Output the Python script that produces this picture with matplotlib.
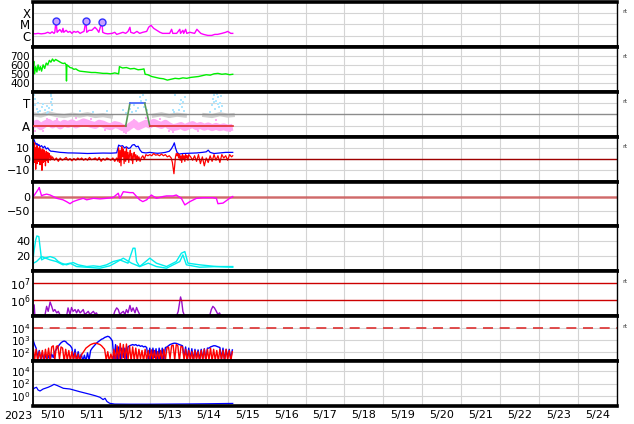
import numpy as np
import matplotlib
matplotlib.use("Agg")
import matplotlib.pyplot as plt
from matplotlib.ticker import NullLocator, FixedLocator

# ---------------- data (time = days since 2023-05-10 00:00) ----------------
xray_t = [0.00,0.05,0.13,0.21,0.31,0.38,0.44,0.49,0.54,0.56,0.59,0.62,0.64,0.69,0.74,0.77,0.79,0.85,0.90,0.95,
          1.00,1.05,1.10,1.15,1.21,1.26,1.31,1.36,1.38,1.44,1.51,1.59,1.64,1.69,1.77,1.79,1.85,1.92,2.03,2.10,
          2.15,2.23,2.31,2.38,2.44,2.49,2.51,2.59,2.67,2.74,2.82,2.92,2.97,3.03,3.10,3.18,3.26,3.33,3.41,3.51,
          3.56,3.59,3.69,3.77,3.79,3.85,3.87,3.92,3.95,4.03,4.15,4.21,4.26,4.31,4.38,4.49,4.59,4.67,4.74,4.85,
          4.95,5.00,5.08,5.13]
xray_f = [1.6e-6,1.45e-6,1.6e-6,1.45e-6,1.6e-6,2.0e-6,1.6e-6,2.2e-6,1.6e-6,2.0e-6,2.1e-5,2.0e-6,2.4e-6,3.5e-6,2.0e-6,4.5e-6,2.0e-6,3.0e-6,2.0e-6,2.4e-6,
          1.6e-6,2.4e-6,2.0e-6,2.4e-6,1.6e-6,2.0e-6,2.4e-6,2.1e-5,2.0e-6,3.0e-6,3.0e-6,5.6e-6,3.7e-6,2.0e-6,1.7e-5,2.0e-6,1.6e-6,1.45e-6,1.6e-6,2.0e-6,
          1.3e-6,1.6e-6,2.0e-6,1.6e-6,2.4e-6,5.6e-6,2.0e-6,1.6e-6,2.4e-6,1.6e-6,2.0e-6,2.4e-6,5.6e-6,8.5e-6,4.5e-6,3.0e-6,2.0e-6,1.6e-6,1.6e-6,1.6e-6,
          3.7e-6,1.6e-6,1.6e-6,3.7e-6,1.6e-6,3.0e-6,1.6e-6,3.7e-6,1.6e-6,2.0e-6,1.6e-6,3.7e-6,2.4e-6,1.6e-6,1.3e-6,1.05e-6,1.05e-6,1.3e-6,1.3e-6,1.6e-6,
          2.0e-6,2.4e-6,1.6e-6,1.6e-6]
flare_t = [0.59, 1.36, 1.77]
flare_f = [2.1e-5, 2.1e-5, 1.8e-5]

speed_t = [0.00,0.02,0.04,0.07,0.10,0.13,0.16,0.19,0.22,0.26,0.30,0.34,0.38,0.42,0.46,0.50,0.54,0.58,0.62,0.66,
           0.70,0.74,0.78,0.82,0.85,0.86,0.87,0.90,0.95,1.00,1.05,1.10,1.15,1.20,1.30,1.40,1.50,1.60,1.70,1.80,
           1.90,2.00,2.10,2.20,2.22,2.30,2.40,2.50,2.60,2.70,2.80,2.85,2.88,2.95,3.05,3.15,3.25,3.35,3.45,3.55,
           3.65,3.75,3.85,3.95,4.05,4.15,4.25,4.35,4.45,4.55,4.65,4.75,4.85,4.95,5.05,5.13]
speed_v = [560,640,500,580,520,600,540,580,530,600,560,620,600,650,630,665,640,660,650,640,
           630,620,615,620,600,420,600,590,570,565,550,555,540,530,525,520,515,515,510,505,
           505,500,510,500,580,565,570,555,560,545,550,555,495,490,470,460,450,445,430,440,
           450,445,455,450,460,465,470,480,490,485,500,505,495,500,490,495]

# threshold panel (A = all clear level, T = threshold level)
lvl_A, lvl_T = 0.233, 0.744
state_t = [0.00, 2.38, 2.49, 2.87, 3.00, 5.13]
state_v = [lvl_A, lvl_A, lvl_T, lvl_T, lvl_A, lvl_A]
pink_t = [0.0,0.1,0.2,0.3,0.4,0.5,0.6,0.7,0.8,0.9,1.0,1.1,1.2,1.3,1.4,1.5,1.6,1.7,1.8,1.9,2.0,2.1,2.2,2.3,2.4,2.5,
          2.6,2.7,2.8,2.9,3.0,3.1,3.2,3.3,3.4,3.5,3.6,3.7,3.8,3.9,4.0,4.1,4.2,4.3,4.4,4.5,4.6,4.7,4.8,4.9,5.0,5.13]
pink_v = [0.25,0.30,0.22,0.28,0.32,0.26,0.30,0.24,0.30,0.27,0.31,0.26,0.29,0.33,0.30,0.27,0.25,0.30,0.28,0.24,0.22,0.27,0.25,0.20,0.18,0.24,
          0.30,0.22,0.26,0.30,0.26,0.32,0.28,0.25,0.30,0.24,0.20,0.22,0.25,0.20,0.24,0.27,0.22,0.25,0.21,0.24,0.20,0.23,0.20,0.22,0.19,0.21]
pinkdot_t = [0.05,0.25,0.35,1.10,1.50,2.35,2.40,2.60,2.90,3.50,3.60,4.60,4.70,5.05,0.62,1.85,3.25,4.25]
pinkdot_v = [0.12,0.12,0.40,0.42,0.40,0.10,0.08,0.38,0.42,0.12,0.10,0.14,0.38,0.12,0.40,0.14,0.40,0.13]
gray_t = [0.0,0.2,0.4,0.6,0.8,1.0,1.2,1.4,1.6,1.8,2.0,2.2,3.1,3.3,3.5,3.7,3.9,4.1,4.4,4.6,4.8,5.0,5.13]
gray_v = [0.50,0.47,0.52,0.48,0.46,0.49,0.47,0.50,0.46,0.48,0.45,np.nan,0.47,0.50,0.46,0.49,0.47,np.nan,0.48,0.46,0.50,0.47,0.48]
blue_t = [0.00,0.02,0.04,0.06,0.10,0.14,0.18,0.22,0.26,0.30,0.35,0.38,0.42,0.45,0.46,0.47,0.48,0.49,0.50,0.36,0.12,
          1.20,1.55,1.90,2.30,2.40,2.50,2.55,2.60,2.65,2.70,2.75,2.78,2.80,2.83,2.86,2.90,2.92,
          3.60,3.62,3.65,3.75,3.78,3.80,3.82,3.85,3.88,3.90,
          4.55,4.60,4.62,4.64,4.66,4.68,4.70,4.72,4.74,4.76,4.78,4.80,4.82,4.84,4.86]
blue_v = [0.80,0.92,0.70,0.85,0.62,0.75,0.58,0.66,0.72,0.60,0.68,0.55,0.64,0.78,0.90,0.95,0.70,0.60,0.85,0.52,0.55,
          0.58,0.56,0.58,0.60,0.52,0.62,0.56,0.70,0.58,0.64,0.88,0.80,0.74,0.92,0.66,0.82,0.60,
          0.60,0.55,0.92,0.60,0.72,0.82,0.66,0.78,0.58,0.88,
          0.55,0.70,0.85,0.78,0.92,0.62,0.80,0.96,0.72,0.88,0.65,0.75,0.58,0.90,0.68]

bt_t = [0.00,0.03,0.05,0.08,0.10,0.13,0.15,0.18,0.22,0.26,0.30,0.34,0.38,0.42,0.46,0.50,0.60,0.70,0.80,0.90,
        1.00,1.20,1.40,1.60,1.80,2.00,2.15,2.20,2.25,2.30,2.35,2.40,2.45,2.50,2.55,2.60,2.65,2.70,2.75,2.80,
        2.90,3.00,3.10,3.20,3.30,3.40,3.50,3.55,3.60,3.63,3.66,3.70,3.75,3.85,4.00,4.20,4.35,4.45,4.50,4.55,
        4.65,4.80,4.95,5.13]
bt_v = [19,17,15,13,14,12,13,11,12,10,11.5,9,10,8,7,7,6.5,6,5.8,5.5,
        5.5,5.3,5.0,5.2,5.4,5.3,5.6,12.5,11.5,12,10,11,9.5,10,12.5,13,11,11.5,8,6,
        5.5,6,5.5,5.2,5.5,6,7,9,12,14.5,10,6,4.5,5,5.2,5.5,6,6.5,8,6,
        5,5.5,6,6]
bz_t = [0.00,0.01,0.02,0.03,0.04,0.05,0.06,0.07,0.08,0.09,0.10,0.11,0.12,0.13,0.14,0.15,0.16,0.17,0.18,0.19,
        0.20,0.21,0.22,0.23,0.24,0.25,0.26,0.27,0.28,0.29,0.30,0.31,0.32,0.33,0.34,0.35,0.36,0.37,0.38,0.39,
        0.40,0.42,0.44,0.46,0.48,0.50,0.55,0.60,0.65,0.70,0.75,0.80,0.85,0.90,0.95,1.00,1.05,1.10,1.15,1.20,
        1.25,1.30,1.35,1.40,1.45,1.50,1.55,1.60,1.65,1.70,1.75,1.80,1.85,1.90,1.95,2.00,2.05,2.10,2.15,2.18,
        2.20,2.22,2.24,2.26,2.28,2.30,2.32,2.34,2.36,2.38,2.40,2.42,2.44,2.46,2.48,2.50,2.52,2.54,2.56,2.58,
        2.60,2.62,2.64,2.66,2.68,2.70,2.72,2.75,2.78,2.82,2.86,2.90,2.95,3.00,3.05,3.10,3.15,3.20,3.25,3.30,
        3.35,3.40,3.45,3.50,3.55,3.58,3.60,3.62,3.64,3.66,3.68,3.70,3.72,3.74,3.76,3.78,3.80,3.82,3.84,3.86,
        3.88,3.90,3.92,3.94,3.96,3.98,4.00,4.05,4.10,4.15,4.20,4.25,4.30,4.35,4.40,4.45,4.50,4.55,4.60,4.65,
        4.70,4.75,4.80,4.85,4.90,4.95,5.00,5.05,5.10,5.13]
bz_v = [12,-5,15,5,14,-3,10,-9,8,2,12,-4,6,10,-2,8,3,11,-5,5,
        9,-1,7,-10,4,9,-3,6,1,8,-2,5,-6,3,7,-1,4,0,6,-3,
        2,5,-1,3,0,2,-1,1,-2,1,-1,0,1.5,-1,0.5,-1.5,0.5,-1,1,-0.5,
        1,-1,0.5,-1,1.5,-0.5,0,1,-1,1.5,-2,0.5,-1,1,0,-1,1,-2,1,-2,
        10,-3,8,-6,11,2,9,-4,7,-2,10,0,6,-3,4,8,-1,5,-4,3,
        6,0,4,-2,3,-1,2,-2,1,3,0,4,3,4,3,5,3.5,4,3,4.5,
        3,4,2,3,1,-3,-8,-13,-5,2,5,3,5,1,4,-1,3,-3,4,0,
        3,-2,4,1,3,-1,4,2,-1,3,-2,4,-4,2,-6,1,-3,3,-2,4,
        -1,3,-3,4,1,3,-1,4,2,3]

dst_t = [0.01,0.14,0.16,0.22,0.26,0.35,0.44,0.52,0.61,0.77,0.86,0.95,1.03,1.16,1.29,1.38,1.55,1.72,1.89,2.06,
         2.19,2.23,2.32,2.49,2.57,2.66,2.74,2.82,2.92,3.04,3.17,3.34,3.43,3.60,3.68,3.81,3.90,4.03,4.20,4.37,
         4.62,4.71,4.75,4.88,5.05,5.13]
dst_v = [0,25,30,2,5,8,5,0,-6,-11,-17,-24,-17,-11,-6,-11,-6,-8,-6,-3,
         11,-6,16,13,13,0,-11,-17,-11,5,-6,0,2,2,5,-6,-28,-17,-6,-4,
         -4,-6,-24,-22,-6,0]

dens1_t = [0.01,0.03,0.07,0.10,0.15,0.19,0.22,0.30,0.44,0.56,0.65,0.73,0.86,1.03,1.16,1.38,1.55,1.72,1.89,2.06,
           2.23,2.44,2.57,2.62,2.66,2.74,3.00,3.17,3.43,3.68,3.81,3.90,3.98,4.28,4.71,5.13]
dens1_v = [19.7,28.7,42,47.3,46.4,28.7,15.3,17.6,19.7,17.6,13.1,10.9,8.7,11.8,8.7,6.4,7.3,6.4,8.7,13.1,
           15.3,10.9,30.9,30.9,13.1,6.4,17.6,10.9,6.4,13.1,24.2,26.4,10.9,8.7,6.4,6.4]
dens2_t = [0.01,0.09,0.22,0.44,0.60,0.77,0.95,1.12,1.38,1.72,1.97,2.10,2.32,2.53,2.74,2.96,3.17,3.43,3.77,3.85,
           3.94,4.28,4.71,5.13]
dens2_v = [10.9,13.1,19.7,15.3,13.1,8.7,10.9,6.4,5.5,4.2,7.3,10.9,17.6,10.9,6.4,10.9,6.4,4.2,13.1,22,
           8.7,5.5,6.4,5.5]

elec_t = [0.01,0.03,0.05,0.30,0.35,0.39,0.44,0.48,0.52,0.56,0.61,0.65,0.69,0.86,0.90,0.95,0.99,1.03,1.08,1.12,
          1.16,1.21,1.25,1.29,1.33,1.42,1.46,1.55,1.59,1.63,1.68,2.06,2.10,2.15,2.19,2.23,2.27,2.32,2.36,2.40,
          2.44,2.49,2.53,2.57,2.62,2.66,2.70,2.74,2.79,3.68,3.73,3.77,3.79,3.82,3.85,3.90,4.53,4.58,4.62,4.66,
          4.71,4.75,4.79,4.84]
elec_v = [1.0e5,5.2e5,1.0e5,1.0e5,4.2e5,2.1e5,7.7e5,4.2e5,2.1e5,2.7e5,1.7e5,2.1e5,1.35e5,1.0e5,3.4e5,1.35e5,3.6e5,2.1e5,2.7e5,1.7e5,
          2.7e5,1.7e5,2.1e5,2.7e5,1.35e5,2.1e5,1.35e5,2.1e5,1.5e5,1.7e5,1.0e5,1.0e5,2.1e5,3.4e5,2.7e5,1.35e5,1.7e5,2.1e5,1.35e5,2.7e5,
          1.7e5,4.8e5,2.1e5,3.4e5,1.7e5,3.6e5,2.1e5,1.35e5,1.0e5,1.0e5,2.1e5,8.3e5,1.55e6,8.3e5,2.1e5,1.0e5,1.0e5,2.7e5,4.2e5,3.4e5,
          2.1e5,1.35e5,1.7e5,1.0e5]

p8_start, p8_step = 0.0, 0.04
p8_blue_log = [3.0,2.6,2.3,1.5,2.1,1.3,1.9,1.2,1.8,1.2,1.7,1.3,1.8,1.5,2.0,2.2,2.4,2.6,2.75,2.85,
               2.9,2.85,2.7,2.6,2.5,2.3,1.4,2.2,1.2,2.0,1.3,1.8,1.2,1.7,1.2,1.9,1.3,2.1,2.3,2.45,
               2.6,2.75,2.85,2.95,3.05,3.1,3.2,3.25,3.3,3.25,3.1,2.9,1.3,2.6,1.2,2.4,1.3,2.3,1.5,2.3,
               1.4,2.4,2.5,2.55,2.6,2.55,2.6,2.5,2.55,2.45,2.5,2.4,2.45,2.35,1.4,2.3,1.3,2.3,1.5,2.25,
               1.3,2.3,1.4,2.3,1.3,2.35,2.4,2.5,2.6,2.65,2.7,2.72,2.7,2.65,2.6,2.55,2.5,1.5,2.4,1.3,
               2.3,1.4,2.25,1.3,2.2,1.5,2.15,1.3,2.2,1.4,2.25,1.3,2.3,2.3,2.4,2.45,2.5,2.5,2.45,2.4,
               2.35,1.4,2.3,1.3,2.2,1.5,2.2,1.4,2.15]
p8_red_log = [2.5,1.3,2.2,1.2,2.0,1.4,2.1,1.2,2.2,1.3,2.3,1.2,2.4,2.5,1.3,2.45,2.5,1.4,2.4,2.3,
              1.2,2.2,1.3,2.1,1.2,2.0,1.3,1.9,1.2,1.8,1.2,1.7,1.9,2.1,2.3,2.4,2.5,2.6,2.65,2.7,
              2.72,2.7,2.65,2.6,2.5,2.35,2.2,1.3,2.0,1.2,1.8,1.3,2.2,1.2,2.5,1.3,2.7,1.4,2.6,1.2,
              2.65,1.3,2.5,1.2,2.4,1.3,2.3,1.2,2.2,1.4,2.1,1.2,2.2,1.3,2.1,1.2,2.15,1.3,2.1,1.2,
              2.0,1.3,2.1,1.2,2.2,1.3,2.3,2.4,1.4,2.5,2.55,1.3,2.6,2.5,1.2,2.45,2.4,1.3,2.2,1.2,
              2.1,1.3,2.0,1.2,2.1,1.3,2.0,1.2,2.1,1.3,2.2,1.2,2.2,1.3,2.3,1.2,2.2,1.3,2.1,1.2,
              2.2,1.3,2.1,1.2,2.2,1.3,2.1,1.2,2.0]

p9_t = [0.00,0.04,0.09,0.13,0.18,0.26,0.39,0.48,0.54,0.62,0.78,0.95,1.20,1.46,1.60,1.72,1.80,1.85,1.90,1.97,
        2.10,2.50,3.00,3.50,4.00,4.50,5.13]
p9_log = [1.1,1.3,1.42,1.0,0.84,1.15,1.42,1.67,1.88,1.7,1.26,1.15,0.73,0.33,0.1,-0.14,-0.5,-0.3,-0.8,-1.08,
          -1.2,-1.22,-1.22,-1.2,-1.18,-1.15,-1.1]

day_labels = ["5/10","5/11","5/12","5/13","5/14","5/15","5/16","5/17","5/18","5/19","5/20","5/21","5/22","5/23","5/24"]
year_label = "2023"

# ---------------- figure ----------------
W, H = 634, 424
fig = plt.figure(figsize=(W/100, H/100), dpi=100)
axes = fig.subplots(9, 1, sharex=True)
fig.subplots_adjust(left=33/W, right=617/W, top=1-2/H, bottom=1-406/H, hspace=0)

GRID = '#d4d4d4'
FS = 8

for ax in axes:
    ax.set_xlim(0, 15)
    ax.set_xticks(np.arange(0.5, 15, 1))
    ax.set_xticks(np.arange(0, 16, 1), minor=True)
    ax.grid(True, which='minor', axis='x', color=GRID, lw=0.8)
    ax.tick_params(axis='both', which='both', length=0, labelsize=FS, pad=2)
    for s in ('top', 'bottom'):
        ax.spines[s].set_linewidth(2.6)
    ax.spines['left'].set_linewidth(1.3)
    ax.spines['right'].set_linewidth(1.0)
    ax.set_axisbelow(True)

def ygrid(ax):
    ax.grid(True, which='major', axis='y', color=GRID, lw=0.8)

# Panel 1: X-ray
ax = axes[0]
ax.set_yscale('log')
ax.set_ylim(1e-7, 1e-3)
ax.plot(xray_t, xray_f, color='#ff00ff', lw=1.0)
ax.plot(flare_t, flare_f, 'o', ms=5, mfc='#c8a0ff', mec='#3030ff', mew=1.0)
ax.yaxis.set_major_locator(FixedLocator([1e-6, 1e-5, 1e-4]))
ax.yaxis.set_minor_locator(NullLocator())
ax.set_yticklabels(['C', 'M', 'X'])
ax.tick_params(axis='y', labelsize=8.5)
ygrid(ax)

# Panel 2: solar wind speed
ax = axes[1]
ax.set_ylim(300, 800)
ax.plot(speed_t, speed_v, color='#00ee00', lw=1.0)
ax.set_yticks([400, 500, 600, 700])
ax.tick_params(axis='y', labelsize=7.5)
ygrid(ax)

# Panel 3: threshold state
ax = axes[2]
ax.set_ylim(0, 1)
ax.plot(pink_t, pink_v, color='#ffaaf4', lw=5, solid_capstyle='butt', zorder=1)
ax.plot(pinkdot_t, pinkdot_v, 's', ms=2, color='#ffaaf4', mew=0, zorder=1)
ax.plot(gray_t, gray_v, color='#cfcfcf', lw=3, zorder=1)
ax.plot(blue_t, blue_v, 's', ms=2.0, color='#aee6ff', mew=0, zorder=1)
ax.axhline(0.5, color='#8c8c8c', lw=1.0, zorder=2)
seg_colors = ['#e03030', '#5a9a5a', '#4060ff', '#5a9a5a', '#e03030']
for i, c in enumerate(seg_colors):
    ax.plot(state_t[i:i+2], state_v[i:i+2], color=c, lw=1.2, zorder=3)
ax.set_yticks([lvl_A, lvl_T])
ax.set_yticklabels(['A', 'T'])
ax.tick_params(axis='y', labelsize=8.5)
ygrid(ax)

# Panel 4: magnetic field
ax = axes[3]
ax.set_ylim(-20, 20)
ax.plot(bt_t, bt_v, color='#0000ff', lw=0.9)
ax.plot(bz_t, bz_v, color='#ff0000', lw=0.9)
ax.axhline(0, color='#a00000', lw=1.0)
ax.set_yticks([-10, 0, 10])
ygrid(ax)

# Panel 5: Dst
ax = axes[4]
ax.set_ylim(-100, 50)
ax.axhline(0, color='#cc5050', lw=1.8, alpha=0.8)
ax.plot(dst_t, dst_v, color='#ff00ff', lw=1.0)
ax.set_yticks([-50, 0])
ygrid(ax)

# Panel 6: density
ax = axes[5]
ax.set_ylim(0, 60)
ax.plot(dens1_t, dens1_v, color='#00eeee', lw=1.0)
ax.plot(dens2_t, dens2_v, color='#00eeee', lw=1.0)
ax.set_yticks([20, 40])
ygrid(ax)

# Panel 7: electron fluence
ax = axes[6]
ax.set_yscale('log')
ax.set_ylim(1.07e5, 5.4e7)
ax.plot(elec_t, elec_v, color='#9a10c8', lw=1.0)
ax.axhline(1e6, color='#cc0000', lw=1.0)
ax.axhline(1e7, color='#cc0000', lw=1.0)
ax.yaxis.set_major_locator(FixedLocator([1e6, 1e7]))
ax.yaxis.set_minor_locator(NullLocator())

# Panel 8: particle flux
ax = axes[7]
ax.set_yscale('log')
ax.set_ylim(10**1.2, 1e5)
p8_t = p8_start + p8_step * np.arange(len(p8_blue_log))
ax.plot(p8_t, 10.0**np.array(p8_blue_log), color='#0000ff', lw=1.0)
ax.plot(p8_t, 10.0**np.array(p8_red_log), color='#ff0000', lw=1.0)
ax.axhline(1e4, color='#dd3030', lw=1.2, dashes=(6, 4))
ax.yaxis.set_major_locator(FixedLocator([1e2, 1e3, 1e4]))
ax.yaxis.set_minor_locator(NullLocator())
ax.tick_params(axis='y', labelsize=7.5)
ygrid(ax)

# Panel 9
ax = axes[8]
ax.set_yscale('log')
ax.set_ylim(10**-1.5, 10**5.5)
ax.plot(p9_t, 10.0**np.array(p9_log), color='#0000ff', lw=0.9)
ax.yaxis.set_major_locator(FixedLocator([1e0, 1e2, 1e4]))
ax.yaxis.set_minor_locator(NullLocator())
ax.tick_params(axis='y', labelsize=7.5)
ygrid(ax)
ax.set_xticklabels(day_labels)
ax.tick_params(axis='x', pad=3)

for i in range(8):
    axes[i].tick_params(axis='x', labelbottom=False)

for i in (0, 1, 2, 3, 6, 7):
    axes[i].text(1.0086, 0.78, 'rt', transform=axes[i].transAxes, fontsize=4.5,
                 color='#333333', ha='left', va='center')

fig.text(18/W, 1-416/H, year_label, fontsize=FS, ha='center', va='center')

fig.savefig('out.png', dpi=100)
